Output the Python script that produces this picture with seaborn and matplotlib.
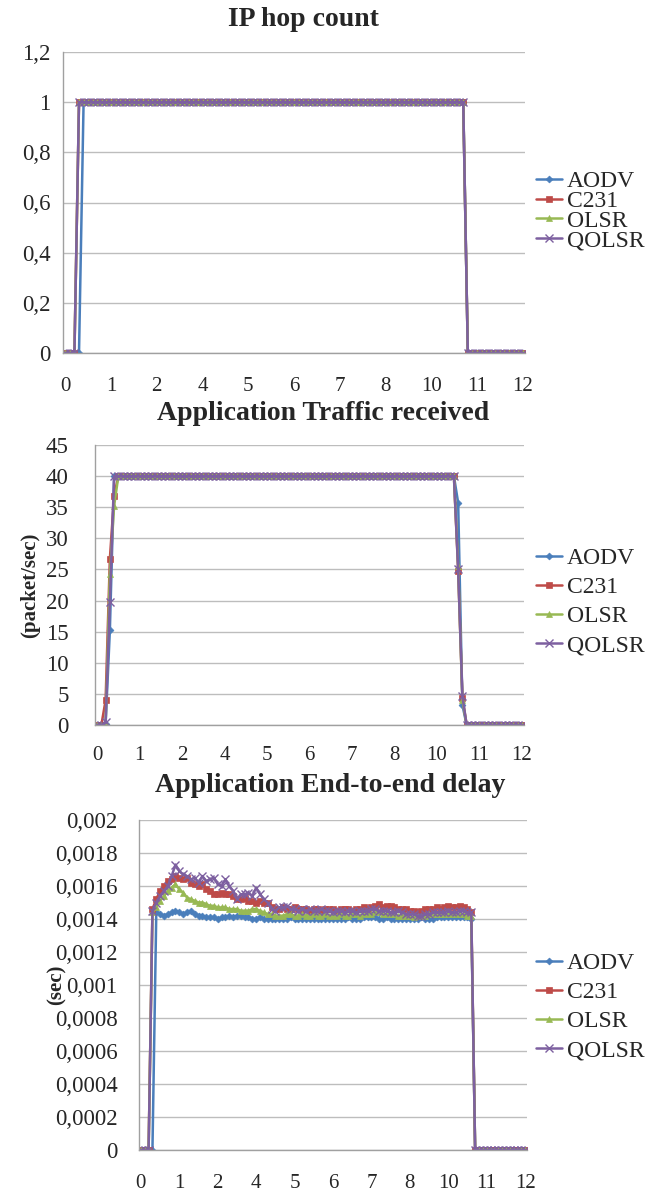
import matplotlib
matplotlib.use("Agg")
import matplotlib.pyplot as plt
from matplotlib.ticker import MultipleLocator, FuncFormatter
import numpy as np
import pandas as pd
import seaborn as sns

sns.set_style("white")
plt.rcParams["font.family"] = ["Liberation Serif", "DejaVu Serif"]

protocols = ["AODV", "C231", "OLSR", "QOLSR"]
colors = ["#4A7EBB", "#BE4B48", "#98B954", "#7D60A0"]
markers = ["D", "s", "^", "x"]
marker_sizes = [3.5, 4.0, 4.2, 5.5]

# Excel category axis: 101 samples, every 10th one is labelled
sample_idx = np.arange(101)
tick_labels = ["0", "1", "2", "4", "5", "6", "7", "8", "10", "11", "12"]

# IP hop count
hop_aodv = [0] * 4 + [1] * 84 + [0] * 13
hop_c231 = [0] * 3 + [1] * 85 + [0] * 13
hop_olsr = [0] * 3 + [1] * 85 + [0] * 13
hop_qolsr = [0] * 3 + [1] * 85 + [0] * 13

# Application traffic received (packet/sec)
traffic_aodv = [0, 0, 0.2, 15.2] + [40] * 81 + [35.7, 3.2] + [0] * 14
traffic_c231 = [0, 0, 4.0, 26.7, 36.8] + [40] * 80 + [24.8, 4.4] + [0] * 14
traffic_olsr = [0, 0, 0.3, 24.2, 35.2] + [40] * 80 + [25.5, 4.0] + [0] * 14
traffic_qolsr = [0, 0, 0.5, 19.8] + [40] * 81 + [25.0, 4.6] + [0] * 14

# Application end-to-end delay (ms, converted to sec below)
delay_aodv_ms = [0] * 4 + [
    1.44, 1.43, 1.42, 1.43, 1.44, 1.45, 1.44, 1.43, 1.44, 1.45,
    1.43, 1.42, 1.42, 1.41, 1.41, 1.41, 1.40, 1.41, 1.41, 1.42,
    1.41, 1.42, 1.42, 1.41, 1.41, 1.40, 1.40, 1.41, 1.40, 1.40,
    1.40, 1.40, 1.40, 1.40, 1.40, 1.41, 1.40, 1.40, 1.40, 1.40,
    1.40, 1.40, 1.40, 1.40, 1.40, 1.40, 1.40, 1.40, 1.40, 1.40,
    1.41, 1.40, 1.40, 1.40, 1.41, 1.41, 1.41, 1.41, 1.40, 1.40,
    1.41, 1.40, 1.40, 1.40, 1.40, 1.40, 1.40, 1.40, 1.40, 1.41,
    1.40, 1.40, 1.40, 1.41, 1.41, 1.41, 1.41, 1.41, 1.41, 1.41,
    1.41, 1.41, 1.40,
] + [0] * 14
delay_c231_ms = [0] * 3 + [
    1.46, 1.52, 1.57, 1.60, 1.63, 1.64, 1.66, 1.65, 1.64, 1.65,
    1.62, 1.61, 1.60, 1.61, 1.58, 1.57, 1.55, 1.55, 1.56, 1.55,
    1.55, 1.54, 1.52, 1.52, 1.53, 1.51, 1.51, 1.50, 1.51, 1.50,
    1.50, 1.47, 1.46, 1.46, 1.47, 1.46, 1.46, 1.47, 1.46, 1.46,
    1.46, 1.45, 1.46, 1.46, 1.45, 1.46, 1.46, 1.46, 1.45, 1.46,
    1.46, 1.46, 1.45, 1.46, 1.46, 1.47, 1.46, 1.47, 1.48, 1.49,
    1.47, 1.48, 1.48, 1.47, 1.46, 1.46, 1.46, 1.45, 1.45, 1.44,
    1.45, 1.46, 1.46, 1.46, 1.47, 1.46, 1.47, 1.48, 1.47, 1.47,
    1.48, 1.47, 1.46, 1.44,
] + [0] * 14
delay_olsr_ms = [0] * 3 + [
    1.44, 1.47, 1.51, 1.54, 1.57, 1.59, 1.61, 1.58, 1.56, 1.53,
    1.52, 1.51, 1.50, 1.50, 1.49, 1.48, 1.48, 1.47, 1.47, 1.47,
    1.46, 1.46, 1.46, 1.45, 1.45, 1.45, 1.46, 1.46, 1.45, 1.44,
    1.43, 1.43, 1.42, 1.42, 1.42, 1.43, 1.43, 1.42, 1.42, 1.43,
    1.42, 1.42, 1.43, 1.42, 1.42, 1.43, 1.42, 1.42, 1.42, 1.43,
    1.42, 1.42, 1.43, 1.43, 1.42, 1.43, 1.43, 1.43, 1.44, 1.44,
    1.43, 1.43, 1.43, 1.43, 1.42, 1.42, 1.42, 1.42, 1.41, 1.42,
    1.42, 1.42, 1.43, 1.43, 1.43, 1.43, 1.43, 1.43, 1.43, 1.43,
    1.43, 1.43, 1.42, 1.42,
] + [0] * 14
delay_qolsr_ms = [0] * 3 + [
    1.45, 1.50, 1.54, 1.57, 1.60, 1.66, 1.73, 1.69, 1.67, 1.66,
    1.64, 1.65, 1.62, 1.66, 1.63, 1.64, 1.65, 1.61, 1.60, 1.64,
    1.60, 1.57, 1.52, 1.55, 1.55, 1.56, 1.54, 1.59, 1.55, 1.52,
    1.50, 1.46, 1.45, 1.47, 1.47, 1.48, 1.46, 1.46, 1.45, 1.46,
    1.45, 1.46, 1.45, 1.45, 1.46, 1.45, 1.45, 1.44, 1.45, 1.45,
    1.44, 1.45, 1.45, 1.44, 1.45, 1.45, 1.45, 1.46, 1.46, 1.45,
    1.45, 1.45, 1.44, 1.44, 1.45, 1.44, 1.43, 1.43, 1.43, 1.42,
    1.42, 1.43, 1.43, 1.44, 1.44, 1.44, 1.44, 1.45, 1.44, 1.44,
    1.45, 1.45, 1.44, 1.44,
] + [0] * 14

GRID = "#BDBDBD"
AXIS = "#A0A0A0"
FIG_W, FIG_H = 655, 1196


def comma_fmt(v, pos):
    return f"{v:g}".replace(".", ",")


def px_rect(left, top, right, bottom):
    return [left / FIG_W, 1 - bottom / FIG_H, (right - left) / FIG_W, (bottom - top) / FIG_H]


def draw_panel(fig, rect, series, ymax, ystep, ypad, xpad, legend_y, legend_gap):
    ax = fig.add_axes(px_rect(*rect))
    for name, vals, c, m, ms in zip(protocols, series, colors, markers, marker_sizes):
        sns.lineplot(
            x=sample_idx, y=vals, ax=ax, color=c, marker=m, markersize=ms,
            markeredgecolor=c, markeredgewidth=1.0 if m == "x" else 0.5,
            linewidth=1.8, label=name, legend=False,
        )
    ax.set_xlim(-0.5, 100.5)
    ax.set_ylim(0, ymax)
    ax.set_xticks(sample_idx[::10])
    ax.set_xticklabels(tick_labels)
    ax.yaxis.set_major_locator(MultipleLocator(ystep))
    ax.yaxis.set_major_formatter(FuncFormatter(comma_fmt))
    ax.grid(axis="y", color=GRID, linewidth=1.0)
    ax.set_axisbelow(True)
    for side in ["top", "right"]:
        ax.spines[side].set_visible(False)
    for side in ["left", "bottom"]:
        ax.spines[side].set_color(AXIS)
        ax.spines[side].set_linewidth(1.0)
    ax.tick_params(axis="y", length=3, color=AXIS, pad=ypad, labelsize=16.5)
    ax.tick_params(axis="x", length=0, pad=xpad, labelsize=15)
    ax.set_xlabel("")
    ax.set_ylabel("")

    handles, labels = ax.get_legend_handles_labels()
    ax.legend(
        handles, labels, loc="center left", frameon=False,
        bbox_to_anchor=(536 / FIG_W, 1 - legend_y / FIG_H),
        bbox_transform=fig.transFigure, fontsize=17,
        handlelength=1.1, handletextpad=0.2, labelspacing=legend_gap,
        borderpad=0, borderaxespad=0,
    )
    return ax


fig = plt.figure(figsize=(FIG_W / 100, FIG_H / 100), dpi=100)

draw_panel(
    fig, (63, 52, 525, 353),
    [hop_aodv, hop_c231, hop_olsr, hop_qolsr],
    1.2, 0.2, 6, 17, 211, -0.08,
)
draw_panel(
    fig, (95, 445, 524, 725),
    [traffic_aodv, traffic_c231, traffic_olsr, traffic_qolsr],
    45, 5, 16, 15, 602, 0.33,
)
delay_series = [
    np.array(delay_aodv_ms) / 1000, np.array(delay_c231_ms) / 1000,
    np.array(delay_olsr_ms) / 1000, np.array(delay_qolsr_ms) / 1000,
]
draw_panel(
    fig, (139, 820, 527, 1150), delay_series,
    0.002, 0.0002, 12.5, 17, 1007, 0.33,
)

title_kw = dict(fontsize=20, fontweight="bold", ha="center", va="center")
fig.text(303 / FIG_W, 1 - 19 / FIG_H, "IP hop count", **title_kw)
fig.text(323 / FIG_W, 1 - 414 / FIG_H, "Application Traffic received", **title_kw)
fig.text(330 / FIG_W, 1 - 786 / FIG_H, "Application End-to-end delay", **title_kw)

ylab_kw = dict(fontsize=15, fontweight="bold", ha="center", va="center", rotation=90)
fig.text(30 / FIG_W, 1 - 585 / FIG_H, "(packet/sec)", **ylab_kw)
fig.text(57 / FIG_W, 1 - 985 / FIG_H, "(sec)", **ylab_kw)

fig.savefig("out.png", dpi=100)
plt.close(fig)
